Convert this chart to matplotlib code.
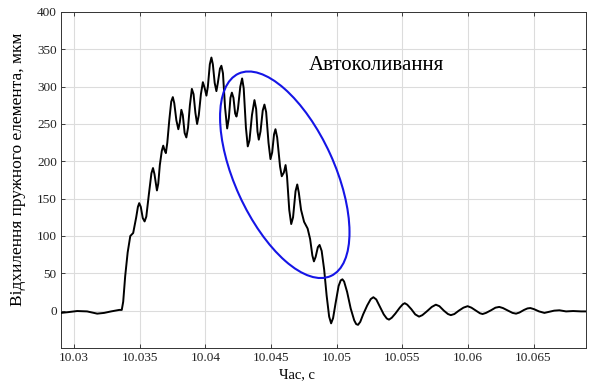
import numpy as np
import matplotlib
matplotlib.use('Agg')
from matplotlib import pyplot as plt
from matplotlib.patches import Ellipse
from matplotlib.transforms import ScaledTranslation

# час, с
t = [10.02901, 10.02954, 10.03023, 10.03099, 10.03176, 10.03229, 10.03282, 10.03344, 10.03363,
     10.03374, 10.03389, 10.03408, 10.03428, 10.03450, 10.03473, 10.03486, 10.03496, 10.03508,
     10.03523, 10.03537, 10.03550, 10.03569, 10.03589, 10.03601, 10.03612, 10.03631, 10.03641,
     10.03653, 10.03668, 10.03679, 10.03689, 10.03699, 10.03710, 10.03725, 10.03740, 10.03752,
     10.03763, 10.03779, 10.03794, 10.03805, 10.03817, 10.03828, 10.03842, 10.03855, 10.03868,
     10.03882, 10.03897, 10.03910, 10.03924, 10.03937, 10.03950, 10.03966, 10.03981, 10.03995,
     10.04008, 10.04019, 10.04034, 10.04046, 10.04057, 10.04071, 10.04084, 10.04095, 10.04111,
     10.04122, 10.04134, 10.04150, 10.04166, 10.04179, 10.04191, 10.04202, 10.04214, 10.04227,
     10.04237, 10.04248, 10.04266, 10.04280, 10.04292, 10.04309, 10.04323, 10.04336, 10.04355,
     10.04374, 10.04387, 10.04397, 10.04407, 10.04420, 10.04437, 10.04450, 10.04463, 10.04481,
     10.04496, 10.04509, 10.04523, 10.04534, 10.04547, 10.04569, 10.04582, 10.04598, 10.04611,
     10.04622, 10.04639, 10.04654, 10.04668, 10.04687, 10.04700, 10.04712, 10.04729, 10.04752,
     10.04779, 10.04798, 10.04815, 10.04827, 10.04840, 10.04857, 10.04870, 10.04886, 10.04905,
     10.04924, 10.04943, 10.04958, 10.04973, 10.04992, 10.05015, 10.05031, 10.05044, 10.05057,
     10.05080, 10.05107, 10.05134, 10.05149, 10.05163, 10.05180, 10.05202, 10.05233, 10.05260,
     10.05280, 10.05302, 10.05328, 10.05359, 10.05382, 10.05399, 10.05420, 10.05447, 10.05481,
     10.05504, 10.05519, 10.05538, 10.05569, 10.05599, 10.05628, 10.05653, 10.05687, 10.05725,
     10.05756, 10.05783, 10.05817, 10.05848, 10.05870, 10.05897, 10.05931, 10.05966, 10.05998,
     10.06027, 10.06061, 10.06092, 10.06112, 10.06138, 10.06176, 10.06210, 10.06239, 10.06267,
     10.06306, 10.06340, 10.06367, 10.06393, 10.06428, 10.06454, 10.06476, 10.06504, 10.06542,
     10.06583, 10.06619, 10.06657, 10.06697, 10.06748, 10.06802, 10.06863, 10.06909]

# відхилення пружного елемента, мкм
d = [-3, -2, -0.5, -1, -4, -3, -1, 1, 1,
     12, 46, 78, 100, 104, 125, 139, 144, 139,
     124, 119.5, 126, 155, 184, 191, 183, 161, 170,
     195, 214, 221, 215, 211, 225, 255, 280, 286,
     278, 255, 243, 252, 269, 262, 238, 232, 245,
     275, 297, 290, 265, 250, 262, 290, 306, 298,
     288, 300, 330, 339, 330, 305, 294, 305, 324,
     328, 318, 272, 244, 258, 285, 292, 285, 264,
     260, 270, 300, 311, 298, 245, 220, 228, 262,
     282, 270, 240, 229, 240, 268, 276, 266, 225,
     203, 212, 236, 243, 232, 193, 180, 185, 195,
     180, 135, 116, 125, 160, 169, 158, 135, 119,
     110, 96, 74, 66, 72, 85, 88, 80, 55,
     20, -8, -17, -10, 10, 33, 40.5, 42, 39,
     25, 3, -13, -18, -19, -15, -5, 7, 15.5,
     18, 15, 6, -5, -10.5, -12, -9.5, -4, 4,
     8.5, 10, 8, 2, -5, -8, -6, -1, 5,
     8, 6, 0, -4.5, -6, -4.5, 0, 4, 6,
     4, 0, -3.5, -4.5, -3, 0.5, 4, 5, 3.5,
     0, -3, -4, -2.5, 1, 3, 3.5, 2, -1,
     -3, -1.5, 0, 0.5, -1, -0.5, -1, -1]

xticks = [10.03, 10.035, 10.04, 10.045, 10.05, 10.055, 10.06, 10.065]
xticklabels = ['10.03', '10.035', '10.04', '10.045', '10.05', '10.055', '10.06', '10.065']
yticks = [0, 50, 100, 150, 200, 250, 300, 350, 400]

plt.rcParams['font.family'] = ['Liberation Serif', 'DejaVu Serif']

fig = plt.figure(figsize=(5.95, 3.87), dpi=100)
ax = fig.add_axes([0.1025, 0.1008, 0.8824, 0.8682])

ax.plot(t, d, color='k', linewidth=1.4, zorder=3)

ax.set_xlim(10.029, 10.069)
ax.set_ylim(-50, 400)
ax.set_xticks(xticks)
ax.set_xticklabels(xticklabels)
ax.set_yticks(yticks)
ax.grid(True, color='#dcdcdc', linewidth=0.8, linestyle='-')
ax.set_axisbelow(True)
ax.tick_params(direction='in', top=True, right=True, length=3, width=0.6,
               labelsize=9.5, pad=3, colors='#222222')
for s in ax.spines.values():
    s.set_linewidth(0.7)
    s.set_color('#333333')

ax.set_xlabel('Час, с', fontsize=10.5)
ax.xaxis.set_label_coords(0.4495, -0.06)
ax.set_ylabel('Відхилення пружного елемента, мкм', fontsize=12.5)
ax.yaxis.set_label_coords(-0.066, 0.533)

# виділення ділянки автоколивань
ell_tr = fig.dpi_scale_trans + ScaledTranslation(10.04605, 182, ax.transData)
ax.add_patch(Ellipse((0, 0), 2.224, 0.998, angle=-65.5, fill=False,
                     edgecolor='#1515e6', linewidth=1.5, transform=ell_tr, zorder=4))
ax.text(10.04789, 322, 'Автоколивання', fontsize=15, ha='left', va='baseline')

fig.savefig('out.png', dpi=100)
